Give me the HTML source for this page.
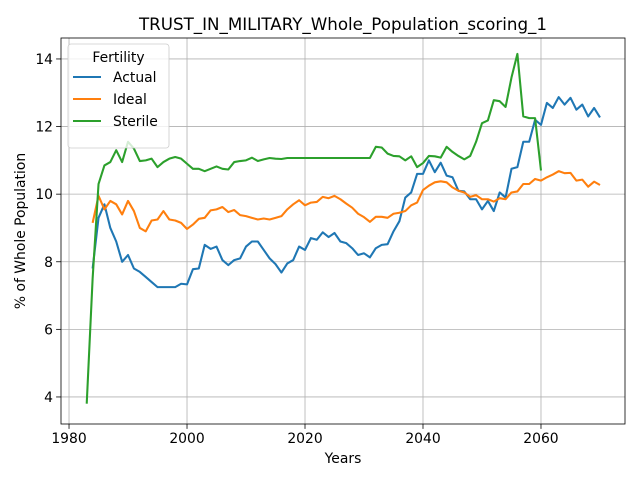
<!DOCTYPE html>
<html><head><meta charset="utf-8"><style>
body{margin:0;background:#fff;font-family:"Liberation Sans","DejaVu Sans",sans-serif}
</style></head><body>
<svg id="chart" width="640" height="480" xmlns="http://www.w3.org/2000/svg" font-family="DejaVu Sans, Liberation Sans, sans-serif"></svg>
<script>
const actualStart = 1984;
const actual = [7.8,9.3,9.7,9.0,8.6,8.0,8.2,7.8,7.7,7.55,7.4,7.25,7.25,7.25,7.25,7.35,7.33,7.78,7.8,8.5,8.38,8.45,8.05,7.9,8.05,8.1,8.45,8.6,8.6,8.35,8.1,7.93,7.68,7.95,8.05,8.45,8.35,8.7,8.65,8.87,8.73,8.85,8.6,8.55,8.4,8.2,8.25,8.13,8.4,8.5,8.52,8.9,9.2,9.9,10.05,10.6,10.6,11.0,10.65,10.93,10.55,10.5,10.1,10.08,9.85,9.85,9.55,9.8,9.5,10.05,9.9,10.75,10.8,11.55,11.55,12.2,12.05,12.7,12.55,12.87,12.65,12.85,12.5,12.65,12.3,12.55,12.27];
const idealStart = 1984;
const ideal = [9.15,9.95,9.55,9.8,9.7,9.4,9.8,9.5,9.0,8.9,9.22,9.25,9.5,9.25,9.22,9.15,8.97,9.1,9.27,9.3,9.52,9.55,9.62,9.47,9.53,9.38,9.35,9.3,9.25,9.28,9.25,9.3,9.35,9.55,9.7,9.82,9.67,9.75,9.77,9.92,9.88,9.95,9.85,9.72,9.6,9.42,9.32,9.18,9.33,9.33,9.3,9.42,9.45,9.5,9.67,9.75,10.12,10.25,10.35,10.38,10.35,10.2,10.1,10.05,9.92,9.97,9.85,9.85,9.78,9.88,9.85,10.05,10.08,10.3,10.3,10.45,10.4,10.5,10.58,10.68,10.62,10.63,10.4,10.43,10.22,10.37,10.27];
const sterileStart = 1983;
const sterile = [3.8,7.5,10.3,10.85,10.95,11.3,10.95,11.55,11.35,10.98,11.0,11.05,10.8,10.95,11.05,11.1,11.05,10.9,10.75,10.75,10.68,10.75,10.82,10.75,10.73,10.95,10.98,11.0,11.08,10.98,11.03,11.07,11.05,11.04,11.07,11.07,11.07,11.07,11.07,11.07,11.07,11.07,11.07,11.07,11.07,11.07,11.07,11.07,11.07,11.4,11.38,11.2,11.13,11.12,11.0,11.12,10.8,10.92,11.13,11.12,11.08,11.4,11.25,11.13,11.03,11.13,11.55,12.1,12.18,12.78,12.75,12.58,13.45,14.15,12.3,12.25,12.25,10.7];
const xTicks = [1980,2000,2020,2040,2060];
const yTicks = [4,6,8,10,12,14];

const L=61,R=625,T=38,B=424;
const xMin=1978.64,xMax=2074.24,yMin=3.2,yMax=14.62;
const sx=v=>L+(v-xMin)/(xMax-xMin)*(R-L);
const sy=v=>B-(v-yMin)/(yMax-yMin)*(B-T);
const svg=document.getElementById('chart');
const NS='http://www.w3.org/2000/svg';
function mk(tag,attrs,parent){const e=document.createElementNS(NS,tag);for(const k in attrs)e.setAttribute(k,attrs[k]);(parent||svg).appendChild(e);return e;}

xTicks.forEach(t=>{
  const g=mk('g',{});
  
  
  mk('line',{x1:sx(t),x2:sx(t),y1:T,y2:B,stroke:'#b0b0b0','stroke-width':0.8},g);
  mk('line',{x1:sx(t),x2:sx(t),y1:B,y2:B+4.9,stroke:'#000','stroke-width':0.8},g);
  const tx=mk('text',{x:sx(t),y:B+19,'text-anchor':'middle','font-size':13.9},g);tx.textContent=t;
});
yTicks.forEach(t=>{
  const g=mk('g',{});
  
  
  mk('line',{x1:L,x2:R,y1:sy(t),y2:sy(t),stroke:'#b0b0b0','stroke-width':0.8},g);
  mk('line',{x1:L-4.9,x2:L,y1:sy(t),y2:sy(t),stroke:'#000','stroke-width':0.8},g);
  const tx=mk('text',{x:L-8,y:sy(t)+5,'text-anchor':'end','font-size':13.9},g);tx.textContent=t;
});
function series(arr,start,color,name){
  const pts=arr.map((v,i)=>sx(start+i).toFixed(2)+','+sy(v).toFixed(2)).join(' ');
  const p=mk('polyline',{points:pts,fill:'none',stroke:color,'stroke-width':2.08,'stroke-linejoin':'round'});
  
  
}
series(actual,actualStart,'#1f77b4','actual');
series(ideal,idealStart,'#ff7f0e','ideal');
series(sterile,sterileStart,'#2ca02c','sterile');

const frame=mk('rect',{x:L,y:T,width:R-L,height:B-T,fill:'none',stroke:'#000','stroke-width':0.8});



const title=mk('text',{x:(L+R)/2,y:T-8,'text-anchor':'middle','font-size':16.7});
title.textContent='TRUST_IN_MILITARY_Whole_Population_scoring_1';


const xl=mk('text',{x:(L+R)/2,y:B+39,'text-anchor':'middle','font-size':13.9});
xl.textContent='Years';


const yl=mk('text',{x:0,y:0,'text-anchor':'middle','font-size':13.9,transform:`translate(25,${(T+B)/2}) rotate(-90)`});
yl.textContent='% of Whole Population';



const lg=mk('g',{});


mk('rect',{x:68,y:44,width:101,height:104,rx:3,fill:'#fff','fill-opacity':0.8,stroke:'#ccc','stroke-width':0.8},lg);
const lt=mk('text',{x:118.5,y:62,'text-anchor':'middle','font-size':13.9},lg);lt.textContent='Fertility';
[['Actual','#1f77b4'],['Ideal','#ff7f0e'],['Sterile','#2ca02c']].forEach((e,i)=>{
  const y=77+i*22;
  const eg=mk('g',{},lg);
  
  
  mk('line',{x1:73,x2:101,y1:y,y2:y,stroke:e[1],'stroke-width':2.08},eg);
  const t=mk('text',{x:113,y:y+5,'font-size':13.9},eg);t.textContent=e[0];
});
</script>
</body></html>
